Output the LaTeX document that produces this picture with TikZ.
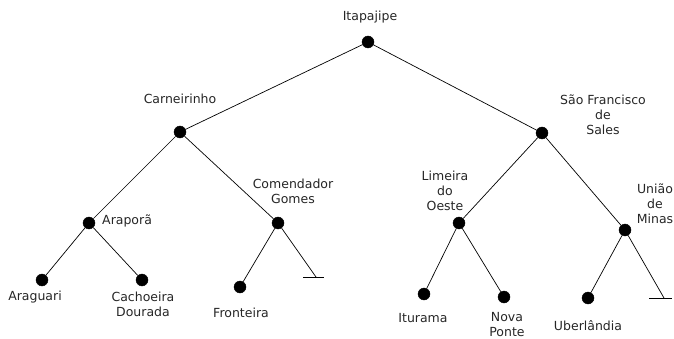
\documentclass[tikz,border=0pt]{standalone}
\usepackage{fontspec}
\setmainfont{DejaVu Sans}
\usetikzlibrary{positioning}
\tikzstyle{city} = [circle, fill=black, draw=black, inner sep=0pt, minimum size=12pt]
\tikzstyle{town} = [align=center, inner sep=0pt, text=black!85, font=\fontsize{12.5}{15}\selectfont]
\tikzstyle{edge} = [line width=0.7pt]

\begin{document}
\begin{tikzpicture}[x=1pt, y=-1pt]
\useasboundingbox (0,0) rectangle (674,339);

\node (itapajipe) [city] at (368,42) {};
\node (itapajipe_t) [town] at (370,17) {Itapajipe};

\node (carneirinho) [city] at (180,132) {};
\node (carneirinho_t) [town] at (180,99) {Carneirinho};

\node (saofrancisco) [city] at (542,133) {};
\node (saofrancisco_t) [town] at (603,115) {São Francisco\\ de\\ Sales};

\node (arapora) [city] at (89,223) {};
\node (arapora_t) [town, anchor=west] at (102,221) {Araporã};

\node (gomes) [city] at (278,223) {};
\node (gomes_t) [town] at (293,191) {Comendador\\ Gomes};
\coordinate (gomes_null) at (316,277);

\node (limeira) [city] at (459,223) {};
\node (limeira_t) [town] at (445,191) {Limeira\\ do\\ Oeste};

\node (uniao) [city] at (625,230) {};
\node (uniao_t) [town] at (655,204) {União\\ de\\ Minas};
\coordinate (uniao_null) at (664,298);

\node (araguari) [city] at (42,280) {};
\node (araguari_t) [town] at (35,297) {Araguari};

\node (cachoeira) [city] at (142,280) {};
\node (cachoeira_t) [town] at (143,304) {Cachoeira\\ Dourada};

\node (fronteira) [city] at (240,287) {};
\node (fronteira_t) [town] at (241,313) {Fronteira};

\node (iturama) [city] at (424,294) {};
\node (iturama_t) [town] at (423,318) {Iturama};

\node (novaponte) [city] at (504,297) {};
\node (novaponte_t) [town] at (507,325) {Nova\\ Ponte};

\node (uberlandia) [city] at (588,298) {};
\node (uberlandia_t) [town] at (588,326) {Uberlândia};

\draw [edge] (itapajipe) -- (carneirinho);
\draw [edge] (itapajipe) -- (saofrancisco);

\draw [edge] (carneirinho) -- (arapora);
\draw [edge] (carneirinho) -- (gomes);
\draw [edge] (arapora) -- (araguari);
\draw [edge] (arapora) -- (cachoeira);
\draw [edge] (gomes) -- (fronteira);
\draw [edge] (gomes) -- (gomes_null);
\draw [edge] ([xshift=-13pt]gomes_null) -- ([xshift=8pt]gomes_null);

\draw [edge] (saofrancisco) -- (limeira);
\draw [edge] (saofrancisco) -- (uniao);
\draw [edge] (limeira) -- (iturama);
\draw [edge] (limeira) -- (novaponte);
\draw [edge] (uniao) -- (uberlandia);
\draw [edge] (uniao) -- (uniao_null);
\draw [edge] ([xshift=-15pt]uniao_null) -- ([xshift=8pt]uniao_null);

\end{tikzpicture}
\end{document}
